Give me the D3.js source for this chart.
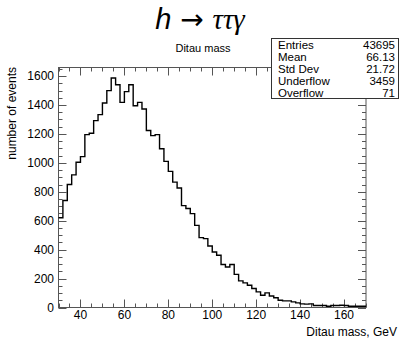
<!DOCTYPE html>
<html>
<head>
<meta charset="utf-8">
<script src="https://cdn.jsdelivr.net/npm/d3@7"></script>
<style>
  body { margin: 0; background: #fff; }
  text { font-family: "Liberation Sans", Arial, sans-serif; fill: #000; }
</style>
</head>
<body>
<svg id="chart" width="400" height="343"></svg>
<script>
// histogram: 70 bins of 2 GeV from 30 to 170
var xMin = 30, xMax = 170, binWidth = 2
var counts = [620,740,850,917,1004,1043,1195,1204,1292,1333,1414,1499,1586,1540,
  1418,1492,1540,1395,1418,1372,1223,1188,1195,1097,
  1010,941,867,826,704,684,649,568,483,476,425,384,361,297,280,
  297,229,184,170,154,131,108,85,101,80,67,50,46,46,39,32,25,23,25,14,14,14,9,14,14,16,14,9,9,9,9]
var xTicks = [40, 60, 80, 100, 120, 140, 160]
var yTicks = [0, 200, 400, 600, 800, 1000, 1200, 1400, 1600]
var statNames = ["Entries", "Mean", "Std Dev", "Underflow", "Overflow"]
var statValues = ["43695", "66.13", "21.72", "3459", "71"]

var svg = d3.select("#chart")
// frame edges (note: "top" is reserved on window)
var fLeft = 58.5, fRight = 366, fTop = 67.5, fBottom = 307.5

var x = d3.scaleLinear().domain([xMin, xMax]).range([fLeft, fRight])
var y = d3.scaleLinear().domain([0, 1659]).range([fBottom, fTop])

// frame ticks (ROOT style, inside the frame)
var ax = svg.append("g").attr("stroke", "#555").attr("stroke-width", 1)
d3.range(30, 171, 5).forEach(function(v) {
  var len = (v % 20 == 0) ? 8 : 4
  var px = Math.round(x(v)) + 0.5
  ax.append("line").attr("x1", px).attr("x2", px).attr("y1", fBottom).attr("y2", fBottom - len)
  ax.append("line").attr("x1", px).attr("x2", px).attr("y1", fTop).attr("y2", fTop + len)
})
d3.range(0, 1651, 50).forEach(function(v) {
  var len = (v % 200 == 0) ? 8 : 4
  var py = Math.round(y(v)) + 0.5
  ax.append("line").attr("x1", fLeft).attr("x2", fLeft + len).attr("y1", py).attr("y2", py)
  ax.append("line").attr("x1", fRight).attr("x2", fRight - len).attr("y1", py).attr("y2", py)
})
ax.append("rect").attr("x", fLeft).attr("y", fTop)
  .attr("width", fRight - fLeft).attr("height", fBottom - fTop).attr("fill", "none")

// tick labels
svg.append("g").selectAll("text").data(xTicks).enter().append("text")
  .attr("x", function(d) { return x(d) }).attr("y", 319)
  .attr("text-anchor", "middle").attr("font-size", 12)
  .text(function(d) { return d })
svg.append("g").selectAll("text").data(yTicks).enter().append("text")
  .attr("x", 54).attr("y", function(d) { return y(d) + 4.3 })
  .attr("text-anchor", "end").attr("font-size", 12)
  .text(function(d) { return d })

// histogram outline
var path = d3.path()
path.moveTo(x(xMin), y(counts[0]))
for (var i = 0; i < counts.length; i++) {
  if (i > 0) path.lineTo(x(xMin + i * binWidth), y(counts[i]))
  path.lineTo(x(xMin + (i + 1) * binWidth), y(counts[i]))
}
svg.append("path").attr("d", path.toString())
  .attr("fill", "none").attr("stroke", "#000").attr("stroke-width", 1.4)

// axis titles
svg.append("text").attr("x", 397).attr("y", 336)
  .attr("text-anchor", "end").attr("font-size", 12).text("Ditau mass, GeV")
svg.append("text").attr("transform", "translate(16,67) rotate(-90)")
  .attr("text-anchor", "end").attr("font-size", 12).text("number of events")

// titles
svg.append("text").attr("x", 203).attr("y", 52)
  .attr("text-anchor", "middle").attr("font-size", 11).text("Ditau mass")
var t = svg.append("text").attr("x", 200).attr("y", 29)
  .attr("text-anchor", "middle").attr("font-size", 29)
t.append("tspan").attr("font-style", "italic").text("h")
t.append("tspan").attr("font-family", "'DejaVu Sans', sans-serif").attr("font-size", 28).text(" \u2192 ")
t.append("tspan").attr("font-family", "'Liberation Serif', serif").attr("font-style", "italic").text("\u03c4\u03c4\u03b3")

// stats box
var sx = 271, sy = 38.5, sw = 127, rowH = 12
var st = svg.append("g")
st.append("rect").attr("x", sx + 0.5).attr("y", sy).attr("width", sw).attr("height", rowH * statNames.length)
  .attr("fill", "#fff").attr("stroke", "#333").attr("stroke-width", 1)
statNames.forEach(function(n, i) {
  st.append("text").attr("x", sx + 7).attr("y", sy + 10 + i * rowH)
    .attr("font-size", 11.5).text(n)
  st.append("text").attr("x", sx + sw - 3).attr("y", sy + 10 + i * rowH)
    .attr("text-anchor", "end").attr("font-size", 11.5).text(statValues[i])
})
</script>
</body>
</html>
